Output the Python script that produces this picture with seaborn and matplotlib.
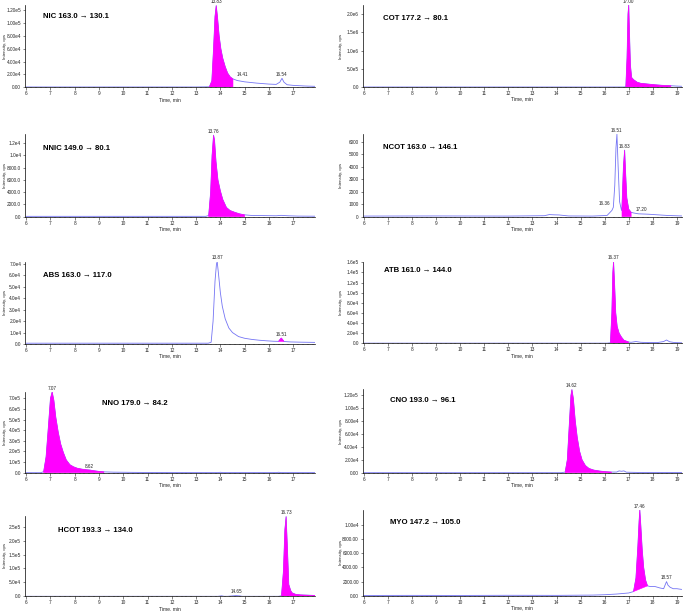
import numpy as np
import pandas as pd
import seaborn as sns
from matplotlib import pyplot as plt
from matplotlib.ticker import MultipleLocator

sns.set_theme(style="ticks")
plt.rcParams["font.family"] = ["Liberation Sans", "DejaVu Sans"]

LINE = "#7474f4"
FILL = "#ff00ff"

# ---------------- data ----------------
nic_t = [6.0, 13.0, 13.55, 13.65, 13.72, 13.78, 13.83, 13.88, 13.95, 14.02, 14.1, 14.2, 14.3, 14.41,
         14.52, 14.7, 15.0, 15.5, 16.0, 16.3, 16.45, 16.54, 16.62, 16.75, 17.0, 17.5, 17.9]
nic_y = [500, 500, 800, 10000, 60000, 110000, 127000, 110000, 80000, 60000, 45000, 32000, 22000, 16000,
         13000, 10500, 8500, 6500, 5000, 4500, 8000, 14000, 8000, 4000, 3000, 2000, 1500]
nic_ticks = [0, 2e4, 4e4, 6e4, 8e4, 1e5, 1.2e5]
nic_labels = ["0.00", "2.00e4", "4.00e4", "6.00e4", "8.00e4", "1.00e5", "1.20e5"]
nic_peaks = [("13.83", 13.83, 127000, 0, 1), ("14.41", 14.41, 14000, 9, 1), ("16.54", 16.54, 14000, 0, 1)]

cot_t = [6.0, 16.8, 16.88, 16.93, 16.97, 17.0, 17.03, 17.07, 17.12, 17.2, 17.35, 17.5, 17.8, 18.1,
         18.4, 18.75, 19.0, 19.2]
cot_y = [0, 0, 5000, 800000, 2000000, 2250000, 1500000, 600000, 260000, 200000, 130000, 100000, 80000,
         60000, 45000, 35000, 25000, 20000]
cot_ticks = [0, 5e5, 1e6, 1.5e6, 2e6]
cot_labels = ["0.0", "5.0e5", "1.0e6", "1.5e6", "2.0e6"]
cot_peaks = [("17.00", 17.0, 2250000, 0, 1)]

nnic_t = [6.0, 13.4, 13.52, 13.6, 13.66, 13.72, 13.76, 13.82, 13.9, 14.0, 14.1, 14.25, 14.4, 14.6,
          14.8, 15.0, 15.3, 15.8, 16.3, 16.5, 16.8, 17.2, 17.9]
nnic_y = [60, 60, 200, 4000, 10000, 13300, 12500, 9000, 6000, 4200, 2800, 1500, 1000, 700,
          450, 300, 200, 180, 150, 220, 150, 100, 80]
nnic_ticks = [0, 2000, 4000, 6000, 8000, 1e4, 1.2e4]
nnic_labels = ["0.0", "2000.0", "4000.0", "6000.0", "8000.0", "1.0e4", "1.2e4"]
nnic_peaks = [("13.76", 13.72, 13300, 0, 1)]

ncot_t = [6.0, 9.0, 12.0, 13.5, 13.7, 13.9, 14.1, 14.5, 15.5, 16.1, 16.3, 16.36, 16.42, 16.47, 16.51,
          16.56, 16.62, 16.7, 16.72, 16.78, 16.83, 16.87, 16.92, 17.0, 17.1, 17.2, 17.4, 17.8, 18.2,
          18.6, 19.2]
ncot_y = [50, 60, 50, 80, 170, 150, 140, 60, 50, 100, 500, 750, 2500, 5500, 6600,
          4000, 1200, 500, 800, 4000, 5330, 3500, 1500, 600, 350, 300, 230, 200, 150,
          100, 60]
ncot_ticks = [0, 1000, 2000, 3000, 4000, 5000, 6000]
ncot_labels = ["0", "1000", "2000", "3000", "4000", "5000", "6000"]
ncot_peaks = [("16.36", 16.36, 750, -6, 1), ("16.51", 16.51, 6600, 0, 1),
              ("16.83", 16.83, 5330, 0, 1), ("17.20", 17.2, 300, 6, 1)]

abs_t = [6.0, 13.5, 13.62, 13.7, 13.78, 13.84, 13.87, 13.92, 14.0, 14.08, 14.2, 14.35, 14.5, 14.75,
         15.0, 15.3, 15.6, 15.9, 16.2, 16.4, 16.46, 16.51, 16.56, 16.62, 16.9, 17.3, 17.9]
abs_y = [700, 700, 1500, 20000, 55000, 70000, 72000, 62000, 45000, 33000, 22000, 14000, 10000, 6500,
         5000, 4000, 3300, 2800, 2400, 2300, 4000, 5200, 4000, 2200, 1800, 1600, 1400]
abs_ticks = [0, 1e4, 2e4, 3e4, 4e4, 5e4, 6e4, 7e4]
abs_labels = ["0.0", "1.0e4", "2.0e4", "3.0e4", "4.0e4", "5.0e4", "6.0e4", "7.0e4"]
abs_peaks = [("13.87", 13.87, 72000, 0, 1), ("16.51", 16.51, 5200, 0, 1)]

atb_t = [6.0, 16.1, 16.24, 16.3, 16.34, 16.37, 16.41, 16.46, 16.52, 16.6, 16.7, 16.8, 17.0, 17.1,
         17.3, 17.5, 17.8, 18.2, 18.45, 18.57, 18.7, 18.9, 19.2]
atb_y = [300, 300, 1000, 60000, 140000, 161000, 120000, 60000, 33000, 20000, 12000, 6000, 2500, 2000,
         3500, 2000, 1500, 1500, 3500, 6500, 3000, 1500, 1000]
atb_ticks = [0, 2e4, 4e4, 6e4, 8e4, 1e5, 1.2e5, 1.4e5, 1.6e5]
atb_labels = ["0.0", "2.0e4", "4.0e4", "6.0e4", "8.0e4", "1.0e5", "1.2e5", "1.4e5", "1.6e5"]
atb_peaks = [("16.37", 16.37, 161000, 0, 1)]

nno_t = [6.0, 6.6, 6.72, 6.82, 6.92, 7.0, 7.07, 7.14, 7.22, 7.32, 7.42, 7.53, 7.65, 7.8, 7.95, 8.1,
         8.3, 8.5, 8.62, 8.8, 9.0, 9.2, 9.6, 10.5, 11.2, 12.0, 13.9, 14.0, 14.1, 16.3, 16.4, 16.5, 17.9]
nno_y = [0, 0, 10000, 150000, 450000, 700000, 760000, 680000, 520000, 380000, 270000, 190000, 120000,
         75000, 55000, 42000, 33000, 27000, 25000, 18000, 12000, 8000, 5000, 3000, 2000, 800, 800,
         4000, 800, 800, 4000, 800, 500]
nno_ticks = [0, 1e5, 2e5, 3e5, 4e5, 5e5, 6e5, 7e5]
nno_labels = ["0.0", "1.0e5", "2.0e5", "3.0e5", "4.0e5", "5.0e5", "6.0e5", "7.0e5"]
nno_peaks = [("7.07", 7.07, 760000, 0, 1), ("8.62", 8.62, 25000, 0, 1)]

cno_t = [6.0, 14.2, 14.36, 14.45, 14.54, 14.6, 14.64, 14.7, 14.78, 14.86, 14.96, 15.06, 15.2, 15.35,
         15.55, 15.8, 16.05, 16.28, 16.5, 16.6, 16.7, 16.8, 16.9, 17.5, 19.2]
cno_y = [0, 0, 1000, 20000, 80000, 120000, 129000, 115000, 80000, 55000, 33000, 20000, 11000, 6500,
         4000, 2500, 1500, 1000, 1000, 2800, 2200, 2800, 800, 300, 200]
cno_ticks = [0, 2e4, 4e4, 6e4, 8e4, 1e5, 1.2e5]
cno_labels = ["0.00", "2.00e4", "4.00e4", "6.00e4", "8.00e4", "1.00e5", "1.20e5"]
cno_peaks = [("14.62", 14.64, 129000, 0, 1)]

hcot_t = [6.0, 13.9, 14.05, 14.15, 14.3, 14.5, 14.65, 14.8, 14.9, 16.4, 16.52, 16.6, 16.66, 16.71,
          16.76, 16.82, 16.9, 16.96, 17.1, 17.3, 17.6, 17.9]
hcot_y = [0, 0, 1800, 0, 0, 1500, 2500, 1500, 0, 0, 2000, 90000, 240000, 286000,
          180000, 42000, 20000, 12000, 7000, 5000, 4000, 3000]
hcot_ticks = [0, 5e4, 1e5, 1.5e5, 2e5, 2.5e5]
hcot_labels = ["0.0", "5.0e4", "1.0e5", "1.5e5", "2.0e5", "2.5e5"]
hcot_peaks = [("16.73", 16.71, 286000, 0, 1), ("14.65", 14.65, 2500, 0, 1)]

myo_t = [6.0, 8.0, 10.0, 12.0, 14.0, 15.5, 16.0, 16.5, 17.0, 17.2, 17.3, 17.38, 17.43, 17.46, 17.5,
         17.56, 17.62, 17.7, 17.78, 17.9, 18.1, 18.3, 18.45, 18.52, 18.57, 18.63, 18.72, 18.85, 19.0, 19.2]
myo_y = [50, 60, 50, 70, 60, 100, 150, 250, 400, 600, 2500, 7000, 10500, 12100, 10000,
         6500, 4000, 2200, 1400, 1300, 1300, 1100, 1000, 1600, 2000, 1500, 1200, 1000, 1000, 900]
myo_ticks = [0, 2000, 4000, 6000, 8000, 1e4]
myo_labels = ["0.00", "2000.00", "4000.00", "6000.00", "8000.00", "1.00e4"]
myo_peaks = [("17.46", 17.46, 12100, 0, 1), ("18.57", 18.57, 2000, 0, 1)]

# ---------------- panels: title, data, fill, layout (pixels) ----------------
W, H = 685, 611
LEFT = (25, 315, 17.9)
RIGHT = (362.7, 681.7, 19.2)

panels = [
    dict(title="NIC 163.0 → 130.1", t=nic_t, y=nic_y, ticks=nic_ticks, labels=nic_labels, peaks=nic_peaks,
         fill=(13.55, 14.52, 0, 0), col=LEFT, rows=(5, 87.3), ymax=1.28e5, tpos=(0.062, 0.86)),
    dict(title="COT 177.2 → 80.1", t=cot_t, y=cot_y, ticks=cot_ticks, labels=cot_labels, peaks=cot_peaks,
         fill=(16.88, 18.75, 0, 0), col=RIGHT, rows=(5, 87), ymax=2.25e6, tpos=(0.065, 0.84)),
    dict(title="NNIC 149.0 → 80.1", t=nnic_t, y=nnic_y, ticks=nnic_ticks, labels=nnic_labels, peaks=nnic_peaks,
         fill=(13.52, 15.0, 0, 0), col=LEFT, rows=(134, 216.7), ymax=1.35e4, tpos=(0.062, 0.83)),
    dict(title="NCOT 163.0 → 146.1", t=ncot_t, y=ncot_y, ticks=ncot_ticks, labels=ncot_labels, peaks=ncot_peaks,
         fill=(16.72, 17.1, 0, 0), col=RIGHT, rows=(134, 216.7), ymax=6620, tpos=(0.065, 0.84)),
    dict(title="ABS 163.0 → 117.0", t=abs_t, y=abs_y, ticks=abs_ticks, labels=abs_labels, peaks=abs_peaks,
         fill=(16.4, 16.62, 2300, 2200), col=LEFT, rows=(261.7, 344), ymax=7.2e4, tpos=(0.062, 0.83)),
    dict(title="ATB 161.0 → 144.0", t=atb_t, y=atb_y, ticks=atb_ticks, labels=atb_labels, peaks=atb_peaks,
         fill=(16.24, 17.0, 0, 0), col=RIGHT, rows=(261.7, 343.3), ymax=1.612e5, tpos=(0.068, 0.89)),
    dict(title="NNO 179.0 → 84.2", t=nno_t, y=nno_y, ticks=nno_ticks, labels=nno_labels, peaks=nno_peaks,
         fill=(6.72, 9.2, 0, 0), col=LEFT, rows=(391.7, 472.7), ymax=7.63e5, tpos=(0.265, 0.85)),
    dict(title="CNO 193.0 → 96.1", t=cno_t, y=cno_y, ticks=cno_ticks, labels=cno_labels, peaks=cno_peaks,
         fill=(14.36, 16.28, 0, 0), col=RIGHT, rows=(389.3, 472.7), ymax=1.295e5, tpos=(0.085, 0.86)),
    dict(title="HCOT 193.3 → 134.0", t=hcot_t, y=hcot_y, ticks=hcot_ticks, labels=hcot_labels, peaks=hcot_peaks,
         fill=(16.52, 17.9, 0, 0), col=LEFT, rows=(515.5, 596.3), ymax=2.9e5, tpos=(0.115, 0.82)),
    dict(title="MYO 147.2 → 105.0", t=myo_t, y=myo_y, ticks=myo_ticks, labels=myo_labels, peaks=myo_peaks,
         fill=(17.2, 17.78, 600, 1400), col=RIGHT, rows=(510, 595.8), ymax=1.21e4, tpos=(0.085, 0.85)),
]

fig = plt.figure(figsize=(W / 100, H / 100), dpi=100)

for p in panels:
    x0, x1, xmax = p["col"]
    top, bottom = p["rows"]
    ax = fig.add_axes([x0 / W, 1 - bottom / H, (x1 - x0) / W, (bottom - top) / H])
    df = pd.DataFrame({"Time": p["t"], "Intensity": p["y"]})
    sns.lineplot(data=df, x="Time", y="Intensity", ax=ax, color=LINE, linewidth=0.6,
                 estimator=None, zorder=2)

    fs, fe, bs, be = p["fill"]
    seg = df[(df["Time"] >= fs) & (df["Time"] <= fe)]
    px = list(seg["Time"]) + [fe, fs]
    py = list(seg["Intensity"]) + [be, bs]
    ax.fill(px, py, color=FILL, linewidth=0.4, zorder=3)

    for txt, tx, ty, dx, dy in p["peaks"]:
        ax.annotate(txt, (tx, ty), xytext=(dx, dy), textcoords="offset points",
                    ha="center", va="bottom", fontsize=3.3, color="#222222",
                    annotation_clip=False)

    ax.text(p["tpos"][0], p["tpos"][1], p["title"], transform=ax.transAxes,
            fontsize=5.6, fontweight="bold", color="black", va="center", ha="left")

    ax.set_xlim(5.95, xmax)
    ax.set_ylim(0, p["ymax"])
    ax.xaxis.set_major_locator(MultipleLocator(1))
    ax.xaxis.set_minor_locator(MultipleLocator(0.2))
    ax.set_yticks(p["ticks"])
    ax.set_yticklabels(p["labels"])
    ax.tick_params(axis="both", which="major", labelsize=3.4, length=1.8, width=0.4, pad=1)
    ax.tick_params(axis="x", which="minor", length=0.9, width=0.3)
    ax.set_xlabel("Time, min", fontsize=3.6, labelpad=0.5)
    ax.set_ylabel("Intensity, cps", fontsize=3.2)
    ax.yaxis.set_label_coords(-0.062, 0.5)
    for side in ["top", "right"]:
        ax.spines[side].set_visible(False)
    for side in ["left", "bottom"]:
        ax.spines[side].set_linewidth(0.5)
        ax.spines[side].set_color("black")
    ax.set_facecolor("white")

fig.savefig("out.png", dpi=100, facecolor="white")
